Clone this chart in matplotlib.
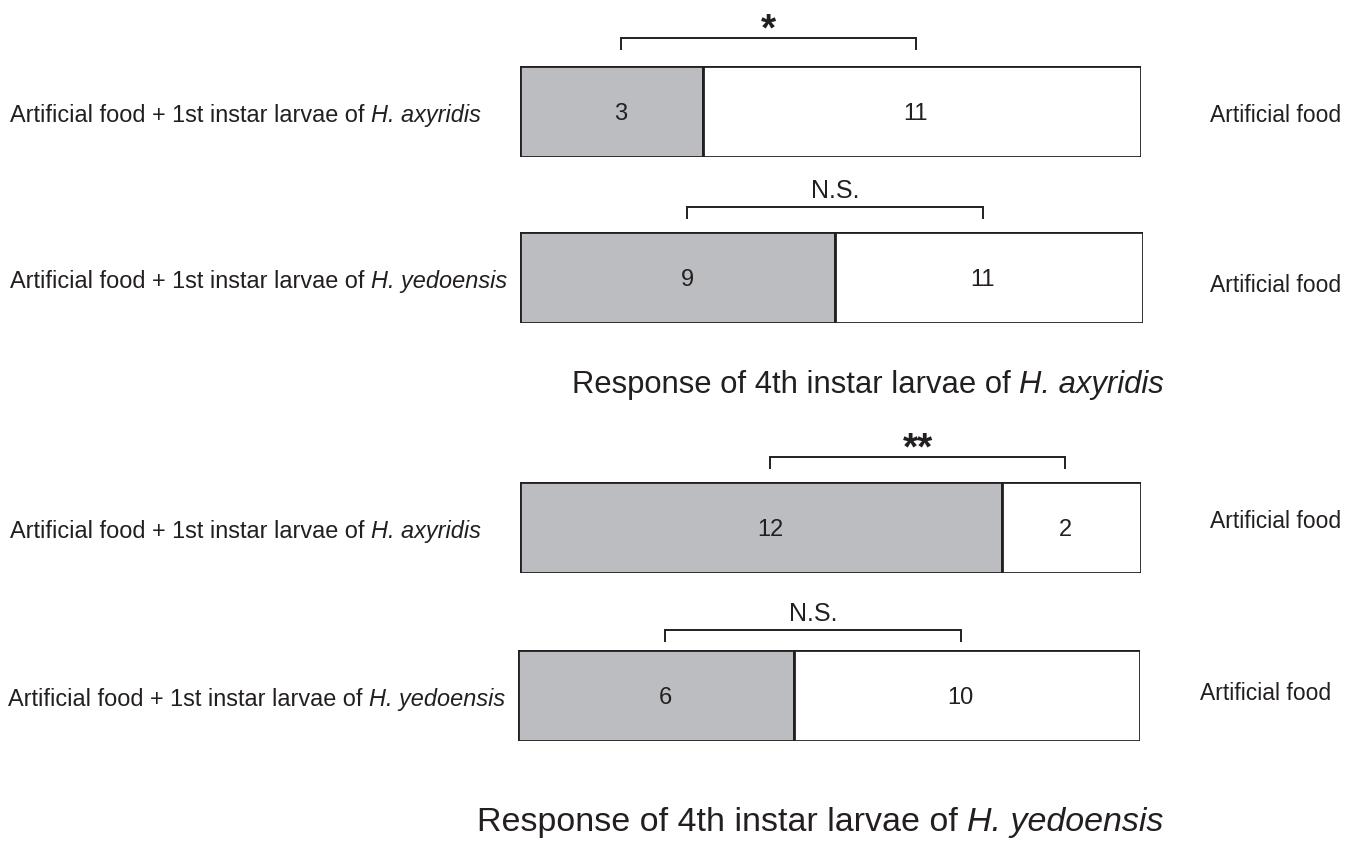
import matplotlib
matplotlib.use("Agg")
import matplotlib.pyplot as plt

# ---- data ----
stimulus_species = ["H. axyridis", "H. yedoensis", "H. axyridis", "H. yedoensis"]
responder_species = ["H. axyridis", "H. yedoensis"]
chosen_counts = [3, 9, 12, 6]       # chose food + larvae (grey)
control_counts = [11, 11, 2, 10]    # chose artificial food only (white)
grey_share = [29.5, 50.6, 77.6, 44.4]  # grey part of bar length (%) as drawn
signif = ["*", "N.S.", "**", "N.S."]

plt.rcParams["font.family"] = ["Liberation Sans", "DejaVu Sans"]

W, H = 1354, 842
GREY = "#bcbdc0"
INK = "#231f20"

fig = plt.figure(figsize=(W / 100, H / 100), dpi=100)
renderer = fig.canvas.get_renderer()


def fx(px):
    return px / W


def fy(py):
    return 1 - py / H


def mixed_text(x, y, plain, italic, size, ha="left", va="center"):
    """plain text followed by an italic species name, x/y in pixels"""
    t1 = fig.text(fx(x), fy(y), plain, ha="left", va=va, fontsize=size, color=INK)
    t2 = fig.text(0, 0, italic, ha="left", va=va, fontsize=size,
                  style="italic", color=INK)
    w1 = t1.get_window_extent(renderer).width
    w2 = t2.get_window_extent(renderer).width
    start = x - (w1 + w2) / 2 if ha == "center" else x
    t1.set_x(fx(start))
    t2.set_position((fx(start + w1), fy(y)))


# bar boxes in pixels
bar_left = [520, 520, 520, 518]
bar_right = [1141, 1143, 1141, 1140]
bar_top = [66, 232, 482, 650]
bar_h = 91
bracket_gap = [28, 25, 25, 20]
right_lab = [(1210, 115), (1210, 285), (1210, 522), (1200, 693)]
left_lab_x = [10, 10, 10, 8]

for i in range(4):
    ax = fig.add_axes([fx(bar_left[i]), fy(bar_top[i] + bar_h),
                       fx(bar_right[i] - bar_left[i]), bar_h / H])
    g = grey_share[i]
    ax.barh(0.5, g, height=1, left=0, color=GREY, edgecolor=INK, linewidth=2)
    ax.barh(0.5, 100 - g, height=1, left=g, color="white", edgecolor=INK, linewidth=2)
    ax.set_xlim(0, 100)
    ax.set_ylim(0, 1)
    ax.axis("off")

    x0 = g / 2 + 1.5
    x1 = g + (100 - g) / 2 - 1.0
    ax.text(x0, 0.47, str(chosen_counts[i]), ha="center", va="center",
            fontsize=17, color=INK)
    ax.text(x1, 0.47, str(control_counts[i]), ha="center", va="center",
            fontsize=17, color=INK)

    yb = 1 + bracket_gap[i] / bar_h
    ytick = yb - 11 / bar_h
    ax.plot([x0, x0, x1, x1], [ytick, yb, yb, ytick], color=INK, lw=1.4,
            transform=ax.get_xaxis_transform(), clip_on=False,
            solid_joinstyle="miter")
    if signif[i] == "N.S.":
        ax.text((x0 + x1) / 2, yb + 4 / bar_h, signif[i], ha="center", va="bottom",
                fontsize=18, color=INK, transform=ax.get_xaxis_transform())
    else:
        ax.text((x0 + x1) / 2, yb - 10 / bar_h, signif[i], ha="center", va="bottom",
                fontsize=28, fontweight="bold", color=INK,
                transform=ax.get_xaxis_transform())

    yc = bar_top[i] + bar_h / 2 + 4
    mixed_text(left_lab_x[i], yc, "Artificial food + 1st instar larvae of ",
               stimulus_species[i], 16.9)
    fig.text(fx(right_lab[i][0]), fy(right_lab[i][1]), "Artificial food",
             ha="left", va="center", fontsize=16.5, color=INK)

mixed_text(868, 393, "Response of 4th instar larvae of ", responder_species[0], 22.3,
           ha="center", va="baseline")
mixed_text(820, 831, "Response of 4th instar larvae of ", responder_species[1], 24.5,
           ha="center", va="baseline")

fig.savefig("out.png", dpi=100)
